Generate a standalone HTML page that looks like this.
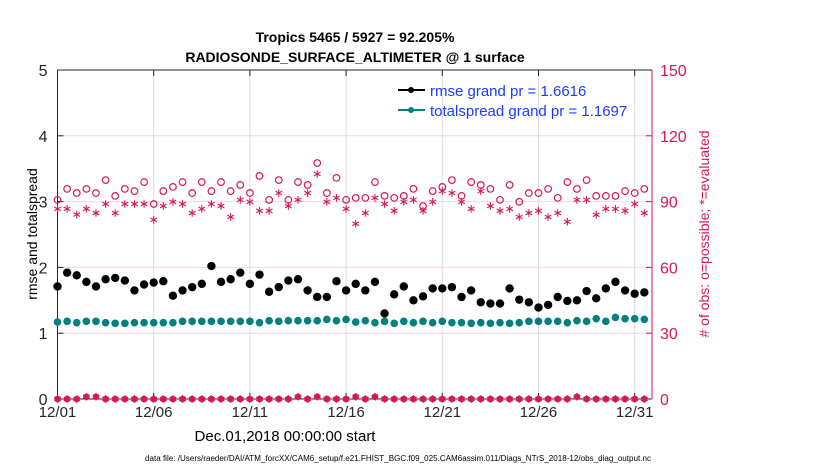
<!DOCTYPE html>
<html><head><meta charset="utf-8"><style>
body{margin:0;background:#fff;}
svg{display:block;font-family:"Liberation Sans",Arial,sans-serif;}
</style></head><body>
<svg id="chart" width="830" height="470" viewBox="0 0 830 470">
<text x="355" y="42" text-anchor="middle" font-size="14" font-weight="bold">Tropics 5465 / 5927 = 92.205%</text>
<text x="355" y="62" text-anchor="middle" font-size="14" font-weight="bold">RADIOSONDE_SURFACE_ALTIMETER @ 1 surface</text>
<g id="grid"></g>
<g id="axes"></g>
<g id="marks"></g>
<g>
 <line x1="398" y1="90" x2="425" y2="90" stroke="#000" stroke-width="2"/>
 <circle cx="411" cy="90" r="3" fill="#000"/>
 <text x="430" y="96" font-size="15" fill="#1a3cff">rmse grand pr = 1.6616</text>
 <line x1="398" y1="110" x2="425" y2="110" stroke="#008080" stroke-width="2"/>
 <circle cx="411" cy="110" r="3" fill="#008080"/>
 <text x="430" y="116" font-size="15" fill="#1a3cff">totalspread grand pr = 1.1697</text>
</g>
<text x="0" y="0" transform="translate(37,234) rotate(-90)" text-anchor="middle" font-size="14">rmse and totalspread</text>
<text x="0" y="0" transform="translate(709,234) rotate(-90)" text-anchor="middle" font-size="14" fill="#d6185a"># of obs: o=possible; *=evaluated</text>
<text x="285" y="441" text-anchor="middle" font-size="15">Dec.01,2018 00:00:00 start</text>
<text x="145" y="461" font-size="8" textLength="506" lengthAdjust="spacingAndGlyphs">data file: /Users/raeder/DAI/ATM_forcXX/CAM6_setup/f.e21.FHIST_BGC.f09_025.CAM6assim.011/Diags_NTrS_2018-12/obs_diag_output.nc</text>
</svg>
<script>
const rmse=[1.71,1.92,1.88,1.78,1.71,1.82,1.84,1.80,1.65,1.74,1.77,1.79,1.57,1.65,1.70,1.75,2.02,1.78,1.82,1.92,1.75,1.89,1.63,1.70,1.80,1.82,1.65,1.55,1.55,1.79,1.65,1.75,1.65,1.78,1.30,1.59,1.71,1.50,1.56,1.68,1.68,1.70,1.55,1.65,1.47,1.45,1.45,1.68,1.51,1.47,1.39,1.43,1.55,1.49,1.50,1.64,1.53,1.68,1.78,1.65,1.60,1.62];
const spread=[1.17,1.18,1.16,1.18,1.18,1.16,1.15,1.15,1.16,1.16,1.16,1.16,1.16,1.18,1.18,1.18,1.18,1.18,1.18,1.18,1.18,1.16,1.19,1.18,1.19,1.19,1.19,1.19,1.21,1.19,1.21,1.17,1.19,1.16,1.18,1.15,1.18,1.16,1.18,1.16,1.18,1.16,1.16,1.15,1.16,1.15,1.16,1.15,1.16,1.18,1.18,1.18,1.18,1.16,1.19,1.18,1.22,1.18,1.24,1.22,1.22,1.21];
const possible=[90.8,95.8,93.9,95.8,93.9,99.8,92.6,95.8,94.8,98.9,88.9,94.8,96.7,98.9,93.9,98.9,94.8,98.9,94.8,97.6,93.9,101.7,90.8,99.8,90.8,98.9,97.6,107.6,93.9,100.8,90.8,91.7,91.7,98.9,92.6,91.7,92.6,95.8,88.0,94.8,96.7,99.8,92.6,98.9,97.6,95.8,90.8,97.6,89.9,93.9,93.9,95.8,91.7,98.9,95.8,99.8,92.6,92.6,92.6,94.8,93.9,95.8];
const evaluated=[86.7,86.7,84.1,86.7,84.8,88.9,84.8,88.9,88.9,88.9,81.7,88.0,89.9,88.9,84.8,86.7,88.9,88.0,83.0,90.8,89.9,85.8,85.8,93.9,88.0,90.8,93.9,102.6,89.9,91.7,86.7,79.9,84.8,91.7,88.9,85.8,89.9,90.8,85.8,89.9,94.8,93.9,89.9,86.7,94.8,88.0,85.8,86.7,83.0,84.8,85.8,83.0,84.8,80.8,90.8,90.8,84.0,86.7,86.7,85.8,88.9,84.8];
const lowCount=[0,0,0,1,1,0,0,0,0,0,0,0,0,0,0,0,0,0,0,0,0,0,0,0,0,1,0,1,0,0,0,1,0,1,0,0,0,0,0,0,0,0,0,0,0,0,0,0,0,0,0,0,0,0,1,0,0,0,0,0,0,0];
const xTickDays=[0,5,10,15,20,25,30];
const xTickLabels=["12/01","12/06","12/11","12/16","12/21","12/26","12/31"];
const yLeftTicks=[0,1,2,3,4,5];
const yRightTicks=[0,30,60,90,120,150];

const X0=57.5,X1=652,YT=70,YB=399,DAYS=30.9;
const RED="#d6185a",TEAL="#008080";
const xs=d=>X0+d/DAYS*(X1-X0);
const yl=v=>YB-v/5*(YB-YT);
const yr=v=>YB-v/150*(YB-YT);
const NS="http://www.w3.org/2000/svg";
function mk(tag,attrs,parent){const e=document.createElementNS(NS,tag);for(const k in attrs)e.setAttribute(k,attrs[k]);parent.appendChild(e);return e;}
const grid=document.getElementById('grid'),axes=document.getElementById('axes'),marks=document.getElementById('marks');

xTickDays.forEach((d,i)=>{
  const g=mk('line',{x1:xs(d),x2:xs(d),y1:YT,y2:YB,stroke:'#dcdcdc','stroke-width':1},grid);
  
  
  mk('line',{x1:xs(d),x2:xs(d),y1:YB,y2:YB-6,stroke:'#262626'},axes);
  mk('line',{x1:xs(d),x2:xs(d),y1:YT,y2:YT+6,stroke:'#262626'},axes);
  const t=mk('text',{x:xs(d),y:YB+18,'text-anchor':'middle','font-size':15,fill:'#262626'},axes);
  t.textContent=xTickLabels[i];
  
  
});
yLeftTicks.forEach(v=>{
  if(v>0&&v<5){const g=mk('line',{x1:X0,x2:X1,y1:yl(v),y2:yl(v),stroke:'#f3d6e0','stroke-width':1},grid);
  
  }
  mk('line',{x1:X0,x2:X0+6,y1:yl(v),y2:yl(v),stroke:'#262626'},axes);
  const t=mk('text',{x:X0-10,y:yl(v)+6,'text-anchor':'end','font-size':16,fill:'#262626'},axes);
  t.textContent=v;
  
  
});
yRightTicks.forEach(v=>{
  mk('line',{x1:X1,x2:X1-6,y1:yr(v),y2:yr(v),stroke:RED},axes);
  const t=mk('text',{x:X1+8,y:yr(v)+6,'font-size':16,fill:RED},axes);
  t.textContent=v;
  
  
});
mk('line',{x1:X0,x2:X1,y1:YT,y2:YT,stroke:'#262626'},axes);
mk('line',{x1:X0,x2:X1,y1:YB,y2:YB,stroke:'#262626'},axes);
mk('line',{x1:X0,x2:X0,y1:YT,y2:YB,stroke:'#262626'},axes);
mk('line',{x1:X1,x2:X1,y1:YT,y2:YB,stroke:RED},axes);

function star(cx,cy,r,color,name){
  const g=mk('g',{stroke:color,'stroke-width':1.1},marks);
  
  
  mk('line',{x1:cx,x2:cx,y1:cy-r,y2:cy+r},g);
  mk('line',{x1:cx-r*0.87,x2:cx+r*0.87,y1:cy-r*0.5,y2:cy+r*0.5},g);
  mk('line',{x1:cx-r*0.87,x2:cx+r*0.87,y1:cy+r*0.5,y2:cy-r*0.5},g);
}
rmse.forEach((v,i)=>{
  const c=mk('circle',{cx:xs(i*0.5),cy:yl(v),r:4.2,fill:'#000'},marks);
  
  
});
spread.forEach((v,i)=>{
  const c=mk('circle',{cx:xs(i*0.5),cy:yl(v),r:3.8,fill:TEAL},marks);
  
  
});
possible.forEach((v,i)=>{
  const c=mk('circle',{cx:xs(i*0.5),cy:yr(v),r:3.3,fill:'none',stroke:RED,'stroke-width':1.2},marks);
  
  
});
evaluated.forEach((v,i)=>star(xs(i*0.5),yr(v),3.8,RED,'obs-evaluated-point'));
lowCount.forEach((v,i)=>{
  const c=mk('circle',{cx:xs(i*0.5),cy:yr(v),r:3.3,fill:RED},marks);
  
  
  star(xs(i*0.5),yr(v),3.8,RED,'obs-low-evaluated-point');
});
</script>
</body></html>
